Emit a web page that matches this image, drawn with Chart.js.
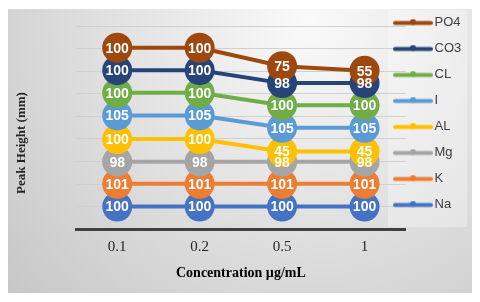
<!DOCTYPE html>
<html>
<head>
<meta charset="utf-8">
<script src="https://cdn.jsdelivr.net/npm/chart.js@4.4.1/dist/chart.umd.min.js"></script>
<style>body{margin:0;background:#fff}</style>
</head>
<body>
<canvas id="myChart" width="480" height="302"></canvas>
<script>
// concentrations on the x axis
const categories = ['0.1', '0.2', '0.5', '1'];

// peak heights (mm), one list per ion
const na = [100, 100, 100, 100];
const k = [101, 101, 101, 101];
const mg = [98, 98, 98, 98];
const al = [100, 100, 45, 45];
const iod = [105, 105, 105, 105];
const cl = [100, 100, 100, 100];
const co3 = [100, 100, 98, 98];
const po4 = [100, 100, 75, 55];

const names = ['Na', 'K', 'Mg', 'AL', 'I', 'CL', 'CO3', 'PO4'];
const colors = ['#4472C4', '#ED7D31', '#A5A5A5', '#FFC000', '#5B9BD5', '#70AD47', '#264478', '#9E480E'];
const series = [na, k, mg, al, iod, cl, co3, po4];

// y axis range (gridlines only, no labels)
const yMax = 900;
const yStep = 100;

// little line-with-dot marker for the legend
function legendMark(color) {
  const c = document.createElement('canvas');
  c.width = 40; c.height = 8;
  const g = c.getContext('2d');
  g.strokeStyle = color;
  g.lineWidth = 4;
  g.lineCap = 'round';
  g.beginPath(); g.moveTo(2, 4.5); g.lineTo(38, 4.5); g.stroke();
  g.fillStyle = color;
  g.beginPath(); g.arc(20, 3.5, 3, 0, Math.PI * 2); g.fill();
  return c;
}
const marks = colors.map(legendMark);

const background = {
  id: 'background',
  beforeDraw(chart) {
    const ctx = chart.ctx;
    ctx.save();
    ctx.fillStyle = '#fff';
    ctx.fillRect(0, 0, chart.width, chart.height);
    const g = ctx.createRadialGradient(310, 20, 0, 310, 20, 430);
    g.addColorStop(0, '#fafafa');
    g.addColorStop(1, '#c4c4c4');
    ctx.fillStyle = g;
    ctx.fillRect(8, 9, 464, 284);
    // pale legend panel
    const lg = chart.legend;
    ctx.fillStyle = 'rgba(255,255,255,0.3)';
    ctx.fillRect(lg.left + 3, 10, 79, 217);
    // y axis title
    ctx.translate(22, 143);
    ctx.rotate(-Math.PI / 2);
    ctx.font = 'bold 13px "Liberation Serif"';
    ctx.fillStyle = '#262626';
    ctx.textAlign = 'center';
    ctx.textBaseline = 'middle';
    ctx.fillText('Peak Height (mm)', 0, 0);
    ctx.restore();
  },
  afterLayout(chart) {
    // legend sits partly over the plot, like the original
    const lg = chart.legend;
    const dx = 385 - lg.left, dy = 3 - lg.top;
    lg.left += dx; lg.right += dx;
    lg.top += dy; lg.bottom += dy;
  }
};

// later series on top, value labels over every marker
const stackDraw = {
  id: 'stackDraw',
  beforeDatasetsDraw(chart) {
    const metas = chart.getSortedVisibleDatasetMetas();
    metas.forEach(m => m.controller.draw());
    const ctx = chart.ctx;
    ctx.save();
    ctx.font = 'bold 14px "Liberation Sans"';
    ctx.fillStyle = '#fff';
    ctx.textAlign = 'center';
    ctx.textBaseline = 'middle';
    metas.forEach(m => {
      const ds = chart.data.datasets[m.index];
      m.data.forEach((pt, j) => ctx.fillText(String(ds.data[j]), pt.x, pt.y + 1));
    });
    ctx.restore();
    return false;
  }
};

var ctx = document.getElementById('myChart').getContext('2d');
var myChart = new Chart(ctx, {
  type: 'line',
  data: {
    labels: categories,
    datasets: series.map((vals, i) => ({
      label: names[i],
      data: vals,
      borderColor: colors[i],
      backgroundColor: colors[i],
      borderWidth: 4,
      pointRadius: 15,
      pointHoverRadius: 15,
      pointBorderWidth: 0,
      pointBackgroundColor: colors[i],
      tension: 0,
      fill: false
    }))
  },
  options: {
    responsive: false,
    animation: false,
    devicePixelRatio: 1,
    events: [],
    layout: { padding: { left: 76, right: -12, top: 26, bottom: 20 } },
    plugins: {
      tooltip: { enabled: false },
      legend: {
        position: 'right',
        align: 'start',
        reverse: true,
        labels: {
          usePointStyle: true,
          pointStyleWidth: 30,
          padding: 13,
          color: '#404040',
          font: { family: 'Liberation Sans', size: 13 },
          generateLabels(chart) {
            const items = Chart.defaults.plugins.legend.labels.generateLabels(chart);
            items.forEach(it => { it.pointStyle = marks[it.datasetIndex]; });
            return items;
          }
        }
      }
    },
    scales: {
      x: {
        offset: true,
        grid: { display: false, drawTicks: false },
        border: { color: '#404040', width: 3 },
        ticks: { font: { family: 'Liberation Serif', size: 15 }, color: '#262626', padding: 9 },
        title: {
          display: true,
          text: 'Concentration µg/mL',
          font: { family: 'Liberation Serif', size: 14, weight: 'bold' },
          color: '#000',
          padding: { top: 0, bottom: 0 }
        }
      },
      y: {
        stacked: true,
        min: 0,
        max: yMax,
        ticks: { display: false, stepSize: yStep },
        grid: { color: '#d0d0d0', drawTicks: false },
        border: { display: false }
      }
    }
  },
  plugins: [background, stackDraw]
});
</script>
</body>
</html>
